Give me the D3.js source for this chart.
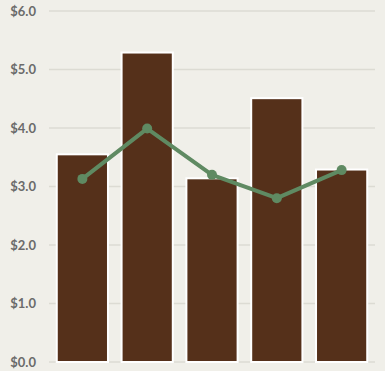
<!DOCTYPE html>
<html>
<head>
<meta charset="utf-8">
<script src="https://cdn.jsdelivr.net/npm/d3@7"></script>
<style>
  body { margin: 0; background: #f0efe9; }
  svg { display: block; }
</style>
</head>
<body>
<div class="chart-box"></div>
<script>
let width = 385, height = 371;

let categories = ['A', 'B', 'C', 'D', 'E'];
let barValues = [3.55, 5.29, 3.14, 4.51, 3.29];
let lineValues = [3.13, 3.99, 3.20, 2.80, 3.28];
let yTicks = [0, 1, 2, 3, 4, 5, 6];

let svg = d3.select('.chart-box')
  .append('svg')
  .attr('width', width)
  .attr('height', height)
  .style('background', '#f0efe9')

let x = d3.scaleBand()
  .domain(categories)
  .range([49, 375])
  .paddingInner(0.21)
  .paddingOuter(0.12)

let y = d3.scaleLinear()
  .domain([0, 6])
  .range([362, 11])

// grid
svg.append('g')
  .selectAll('line')
  .data(yTicks)
  .enter()
  .append('line')
  .attr('x1', 49)
  .attr('x2', 375)
  .attr('y1', d => y(d))
  .attr('y2', d => y(d))
  .attr('stroke', '#dcdbd3')
  .attr('stroke-width', 1.5)

// tick labels
svg.append('g')
  .selectAll('text')
  .data(yTicks)
  .enter()
  .append('text')
  .attr('x', 36)
  .attr('y', d => y(d))
  .attr('dy', '0.35em')
  .attr('text-anchor', 'end')
  .style('font-family', 'Lato, sans-serif')
  .style('font-size', '13px')
  .style('font-weight', 'bold')
  .attr('fill', '#6b6b6b')
  .text(d => '$' + d.toFixed(1))

// bars
svg.append('g')
  .selectAll('rect')
  .data(barValues)
  .enter()
  .append('rect')
  .attr('x', (d, i) => x(categories[i]))
  .attr('y', d => y(d))
  .attr('width', x.bandwidth())
  .attr('height', d => y(0) - y(d))
  .attr('fill', '#55301a')
  .attr('stroke', '#ffffff')
  .attr('stroke-width', 2)

// line
let line = d3.line()
  .x((d, i) => x(categories[i]) + x.bandwidth() / 2)
  .y(d => y(d))

svg.append('path')
  .datum(lineValues)
  .attr('d', line)
  .attr('fill', 'none')
  .attr('stroke', '#5f8a62')
  .attr('stroke-width', 4)
  .attr('stroke-linejoin', 'round')

svg.append('g')
  .selectAll('circle')
  .data(lineValues)
  .enter()
  .append('circle')
  .attr('cx', (d, i) => x(categories[i]) + x.bandwidth() / 2)
  .attr('cy', d => y(d))
  .attr('r', 5)
  .attr('fill', '#5f8a62')
</script>
</body>
</html>
